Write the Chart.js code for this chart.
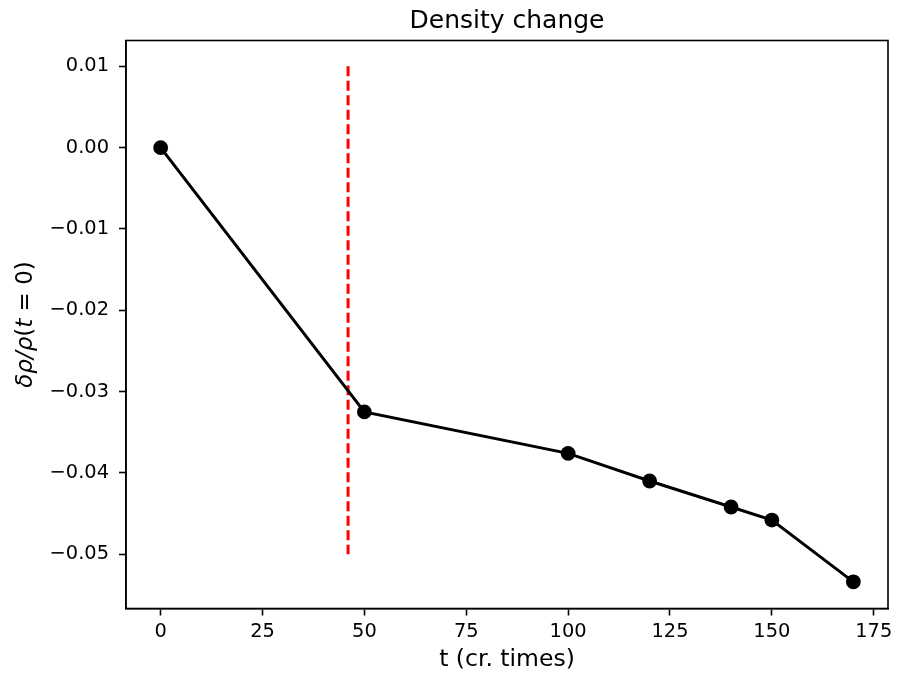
<!DOCTYPE html>
<html>
<head>
<meta charset="utf-8">
<script src="https://cdn.jsdelivr.net/npm/chart.js@4"></script>
<style>
  html, body { margin: 0; padding: 0; background: #fff; }
  #wrap { width: 898px; height: 678px; }
</style>
</head>
<body>
<div id="wrap"><canvas id="c" width="898" height="678"></canvas></div>
<script>
// ---- data ----
const times = [0, 50, 100, 120, 140, 150, 170];
const densityChange = [0.0, -0.0325, -0.0376, -0.0410, -0.0442, -0.0458, -0.0534];
const markerTime = [46, 46];
const markerRange = [0.01, -0.05];
const xTicks = [0, 25, 50, 75, 100, 125, 150, 175];
const yTicks = [0.01, 0.0, -0.01, -0.02, -0.03, -0.04, -0.05];
const titleText = 'Density change';
const xLabel = 't (cr. times)';
// y label pieces: [text, italic?]
const yLabelParts = [['δρ/ρ', true], ['(', false], ['t', true], [' = ', false], ['0)', false]];

const FONT = "'DejaVu Sans', sans-serif";

const frame = {
  id: 'frame',
  afterDatasetsDraw(chart) {
    const a = chart.chartArea, ctx = chart.ctx;
    ctx.save();
    ctx.strokeStyle = '#000';
    ctx.lineWidth = 1.6;
    ctx.strokeRect(a.left, a.top, a.right - a.left, a.bottom - a.top);
    ctx.restore();
  },
  afterDraw(chart) {
    const a = chart.chartArea, ctx = chart.ctx;
    ctx.save();
    ctx.fillStyle = '#000';
    ctx.font = "25px " + FONT;
    ctx.textAlign = 'center';
    ctx.textBaseline = 'alphabetic';
    ctx.fillText(titleText, (a.left + a.right) / 2, 27.5);
    ctx.restore();

    // y axis label, rotated, mixed italic/upright like mathtext
    ctx.save();
    const size = 23;
    const fontFor = it => (it ? 'italic ' : '') + size + 'px ' + FONT;
    let total = 0;
    const widths = yLabelParts.map(([t, it]) => { ctx.font = fontFor(it); const w = ctx.measureText(t).width; total += w; return w; });
    ctx.translate(31.5, (a.top + a.bottom) / 2);
    ctx.rotate(-Math.PI / 2);
    ctx.fillStyle = '#000';
    ctx.textAlign = 'left';
    ctx.textBaseline = 'alphabetic';
    let x = -total / 2;
    yLabelParts.forEach(([t, it], i) => { ctx.font = fontFor(it); ctx.fillText(t, x, 0); x += widths[i]; });
    ctx.restore();
  }
};

const fmtY = v => {
  const s = Math.abs(v) < 1e-12 ? '0.00' : v.toFixed(2);
  return s.replace('-', '\u2212');
};

new Chart(document.getElementById('c'), {
  type: 'line',
  data: {
    datasets: [
      {
        data: times.map((t, i) => ({x: t, y: densityChange[i]})),
        borderColor: '#000',
        backgroundColor: '#000',
        borderWidth: 3,
        pointRadius: 7.4,
        pointBackgroundColor: '#000',
        pointBorderWidth: 0,
        tension: 0,
        order: 0
      },
      {
        data: markerTime.map((t, i) => ({x: t, y: markerRange[i]})),
        borderColor: '#ff0000',
        borderWidth: 3,
        borderDash: [10, 4.5],
        pointRadius: 0,
        tension: 0,
        order: 1
      }
    ]
  },
  options: {
    responsive: false,
    animation: false,
    devicePixelRatio: 1,
    layout: { padding: { left: 10, right: 10, top: 40.5, bottom: 0 } },
    plugins: {
      legend: { display: false },
      tooltip: { enabled: false },
      title: { display: false }
    },
    scales: {
      x: {
        type: 'linear',
        min: -8.5,
        max: 178.5,
        afterBuildTicks: s => { s.ticks = xTicks.map(v => ({value: v})); },
        afterFit: s => { s.height = 69.5; },
        ticks: {
          color: '#000',
          font: { family: FONT, size: 19.4 },
          padding: 5,
          maxRotation: 0,
          autoSkip: false,
          callback: v => String(v)
        },
        grid: { drawOnChartArea: false, drawTicks: true, tickLength: 7, tickWidth: 1.6, tickColor: '#000' },
        border: { display: true, color: '#000', width: 1.6 },
        title: {
          display: true,
          text: xLabel,
          color: '#000',
          font: { family: FONT, size: 23.5 },
          padding: { top: 0, bottom: 4 }
        }
      },
      y: {
        type: 'linear',
        min: -0.05668,
        max: 0.013175,
        afterBuildTicks: s => { s.ticks = yTicks.map(v => ({value: v})); },
        afterFit: s => { s.width = 116; },
        ticks: {
          color: '#000',
          font: { family: FONT, size: 19.4 },
          padding: 10,
          autoSkip: false,
          callback: v => fmtY(v)
        },
        grid: { drawOnChartArea: false, drawTicks: true, tickLength: 7, tickWidth: 1.6, tickColor: '#000' },
        border: { display: true, color: '#000', width: 1.6 },
        title: { display: false }
      }
    }
  },
  plugins: [frame]
});
</script>
</body>
</html>
